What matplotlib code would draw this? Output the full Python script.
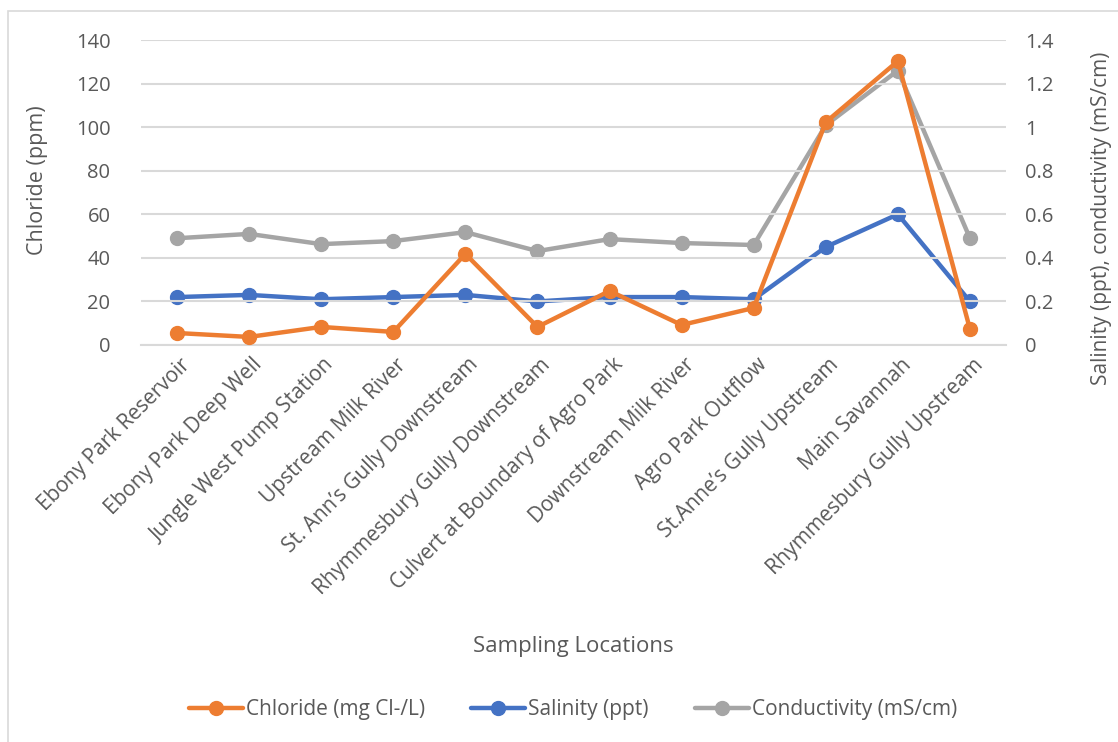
import matplotlib
matplotlib.use("Agg")
import matplotlib.pyplot as plt
from matplotlib.patches import Rectangle
from matplotlib.lines import Line2D
import matplotlib.transforms as mtransforms

plt.rcParams['font.family'] = ['Open Sans', 'DejaVu Sans']

locations = [
    "Ebony Park Reservoir", "Ebony Park Deep Well", "Jungle West Pump Station",
    "Upstream Milk River", "St. Ann\u2019s Gully Downstream", "Rhymmesbury Gully Downstream",
    "Culvert at Boundary of Agro Park", "Downstream Milk River", "Agro Park Outflow",
    "St.Anne\u2019s Gully Upstream", "Main Savannah", "Rhymmesbury Gully Upstream",
]
chloride = [5.5, 3.7, 8.3, 6.0, 41.8, 8.3, 24.8, 9.2, 17.0, 102.3, 130.3, 7.3]
salinity = [0.22, 0.23, 0.21, 0.22, 0.23, 0.20, 0.22, 0.22, 0.21, 0.45, 0.60, 0.20]
conductivity = [0.49, 0.51, 0.463, 0.477, 0.518, 0.431, 0.486, 0.468, 0.459, 1.009, 1.26, 0.49]

left_ticks = [0, 20, 40, 60, 80, 100, 120, 140]
right_ticks = [0, 0.2, 0.4, 0.6, 0.8, 1.0, 1.2, 1.4]
right_labels = ["0", "0.2", "0.4", "0.6", "0.8", "1", "1.2", "1.4"]

ORANGE = "#ED7D31"
BLUE = "#4472C4"
GRAY = "#A5A5A5"
TEXT = "#595959"
GRID = "#D9D9D9"

fig = plt.figure(figsize=(11.18, 7.42), dpi=100)
# chart-area frame (extends past the right and bottom edges)
fig.patches.append(Rectangle((8 / 1118, -0.1), 1.2, 1.1 - 11 / 742,
                             transform=fig.transFigure, fill=False,
                             edgecolor="#D9D9D9", linewidth=1.2))

ax = fig.add_axes([141 / 1118, 1 - 345 / 742, 865 / 1118, 305 / 742])
ax2 = ax.twinx()

x = list(range(len(locations)))
line_kw = dict(linewidth=3.2, marker='o', markersize=10, solid_capstyle='round')

ax.set_xlim(-0.5, len(locations) - 0.5)
ax.set_ylim(0, 140)
ax2.set_ylim(0, 1.4)

ax.set_yticks(left_ticks)
ax.set_yticklabels([str(t) for t in left_ticks])
ax2.set_yticks(right_ticks)
ax2.set_yticklabels(right_labels)

ax.grid(axis='y', color=GRID, linewidth=1.5)
ax.set_axisbelow(True)
for a in (ax, ax2):
    for s in a.spines.values():
        s.set_visible(False)
    a.tick_params(axis='both', length=0, colors=TEXT, labelsize=14.5)
ax.spines['bottom'].set_visible(True)
ax.spines['bottom'].set_color(GRID)
ax.spines['bottom'].set_linewidth(1.5)
ax.tick_params(axis='y', pad=22)
ax2.tick_params(axis='y', pad=14)

ax.set_xticks(x)
ax.set_xticklabels(locations, rotation=45, ha='right', va='center',
                   rotation_mode='anchor', fontsize=15, color=TEXT)
ax.tick_params(axis='x', pad=12)
shift = mtransforms.ScaledTranslation(10 / 100, 0, fig.dpi_scale_trans)
for lbl in ax.get_xticklabels():
    lbl.set_transform(lbl.get_transform() + shift)

# salinity and conductivity on the right axis, chloride on the left
ax2.plot(x, conductivity, color=GRAY, zorder=3, **line_kw)
ax2.plot(x, salinity, color=BLUE, zorder=4, **line_kw)
ax.plot(x, chloride, color=ORANGE, zorder=5, **line_kw)

ax.set_zorder(ax2.get_zorder() + 1)
ax.patch.set_visible(False)

ax.set_ylabel("Chloride (ppm)", fontsize=15.5, color=TEXT)
ax.yaxis.set_label_coords(-0.108, 0.54)
ax2.set_ylabel("Salinity (ppt), conductivity (mS/cm)", fontsize=15, color=TEXT)
ax2.yaxis.set_label_coords(1.098, 0.415)
ax.set_xlabel("Sampling Locations", fontsize=16, color=TEXT)
ax.xaxis.set_label_coords(0.5, -0.953)

handles = [Line2D([], [], color=c, **line_kw) for c in (ORANGE, BLUE, GRAY)]
fig.legend(handles, ["Chloride (mg Cl-/L)", "Salinity (ppt)", "Conductivity (mS/cm)"],
           loc='center', bbox_to_anchor=(573 / 1118, 1 - 710 / 742), ncol=3, frameon=False,
           fontsize=15, labelcolor=TEXT, handlelength=2.6, handletextpad=0.15,
           columnspacing=2.2)

fig.savefig("out.png", dpi=100)
